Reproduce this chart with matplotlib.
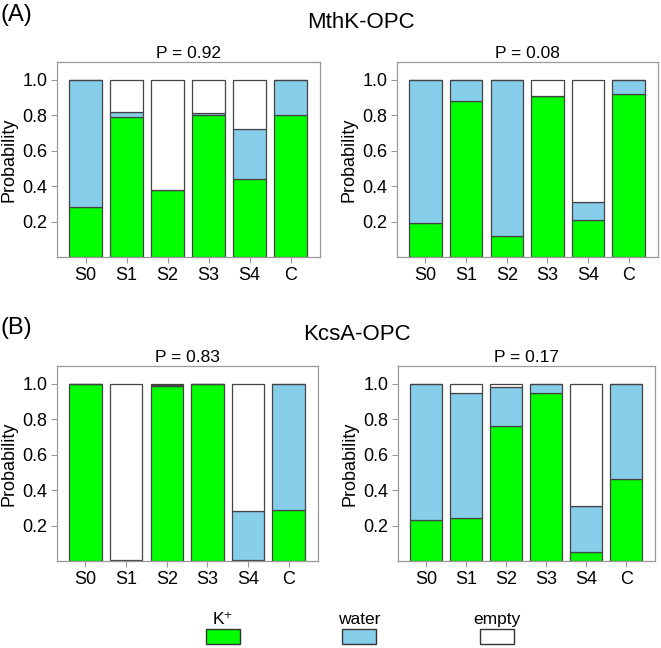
import matplotlib
matplotlib.use("Agg")
import matplotlib.pyplot as plt
from matplotlib.patches import Rectangle

plt.rcParams['font.family'] = ['Liberation Sans', 'DejaVu Sans']

sites = ["S0", "S1", "S2", "S3", "S4", "C"]
series_names = ["K⁺", "water", "empty"]
series_colors = ["#00ff00", "#87ceeb", "#ffffff"]

# Panel A: MthK-OPC
mthk_p92_k = [0.28, 0.79, 0.38, 0.80, 0.44, 0.80]
mthk_p92_water = [0.72, 0.03, 0.00, 0.01, 0.28, 0.20]
mthk_p08_k = [0.19, 0.88, 0.12, 0.91, 0.21, 0.92]
mthk_p08_water = [0.81, 0.12, 0.88, 0.00, 0.10, 0.08]
# Panel B: KcsA-OPC
kcsa_p83_k = [1.00, 0.005, 0.99, 1.00, 0.003, 0.29]
kcsa_p83_water = [0.00, 0.00, 0.005, 0.00, 0.277, 0.71]
kcsa_p17_k = [0.23, 0.24, 0.76, 0.95, 0.05, 0.46]
kcsa_p17_water = [0.77, 0.71, 0.22, 0.05, 0.26, 0.54]

panel_titles = ["P = 0.92", "P = 0.08", "P = 0.83", "P = 0.17"]
group_titles = ["MthK-OPC", "KcsA-OPC"]
group_labels = ["(A)", "(B)"]

W, H = 661, 648
fig = plt.figure(figsize=(W / 100, H / 100), dpi=100)

def add_ax(x0, y0, x1, y1):
    return fig.add_axes([x0 / W, 1 - y1 / H, (x1 - x0) / W, (y1 - y0) / H])

panels = [
    ((57, 62, 320, 257), mthk_p92_k, mthk_p92_water, panel_titles[0]),
    ((397, 62, 658, 257), mthk_p08_k, mthk_p08_water, panel_titles[1]),
    ((57, 366, 318, 561), kcsa_p83_k, kcsa_p83_water, panel_titles[2]),
    ((398, 366, 655, 561), kcsa_p17_k, kcsa_p17_water, panel_titles[3]),
]

edge = "#444444"
spine_c = "#999999"
x = list(range(len(sites)))
for box, k, w, title in panels:
    ax = add_ax(*box)
    e = [max(0.0, 1 - a - b) for a, b in zip(k, w)]
    kw = dict(width=0.8, edgecolor=edge, linewidth=0.9)
    ax.bar(x, k, color=series_colors[0], **kw)
    ax.bar(x, w, bottom=k, color=series_colors[1], **kw)
    ax.bar(x, e, bottom=[a + b for a, b in zip(k, w)], color=series_colors[2], **kw)
    ax.set_xlim(-0.7, 5.72)
    ax.set_ylim(0, 1.1)
    ax.set_yticks([0.2, 0.4, 0.6, 0.8, 1.0])
    ax.set_yticklabels(["0.2", "0.4", "0.6", "0.8", "1.0"])
    ax.set_xticks(x)
    ax.set_xticklabels(sites)
    ax.tick_params(labelsize=13, color=spine_c, length=4, width=0.8, pad=3)
    for s in ax.spines.values():
        s.set_color(spine_c)
        s.set_linewidth(0.9)
    ax.set_ylabel("Probability", fontsize=13, labelpad=3)
    ax.set_title(title, fontsize=12.5, pad=3)

fig.text(361 / W, 1 - 23 / H, group_titles[0], ha="center", va="center", fontsize=16)
fig.text(357 / W, 1 - 335 / H, group_titles[1], ha="center", va="center", fontsize=16)
fig.text(0 / W, 1 - 15 / H, group_labels[0], ha="left", va="center", fontsize=17)
fig.text(0 / W, 1 - 328 / H, group_labels[1], ha="left", va="center", fontsize=17)

# legend
lax = fig.add_axes([0, 0, 1, 60 / H])
lax.set_xlim(0, W)
lax.set_ylim(60, 0)
lax.axis("off")
leg_x = [206, 342, 480]
for lx, name, col in zip(leg_x, series_names, series_colors):
    lax.add_patch(Rectangle((lx, 41), 34, 15, facecolor=col, edgecolor="#333333", linewidth=1.0))
    lax.text(lx + 17, 39, name, ha="center", va="bottom", fontsize=12.5)

fig.savefig("out.png", dpi=100)
